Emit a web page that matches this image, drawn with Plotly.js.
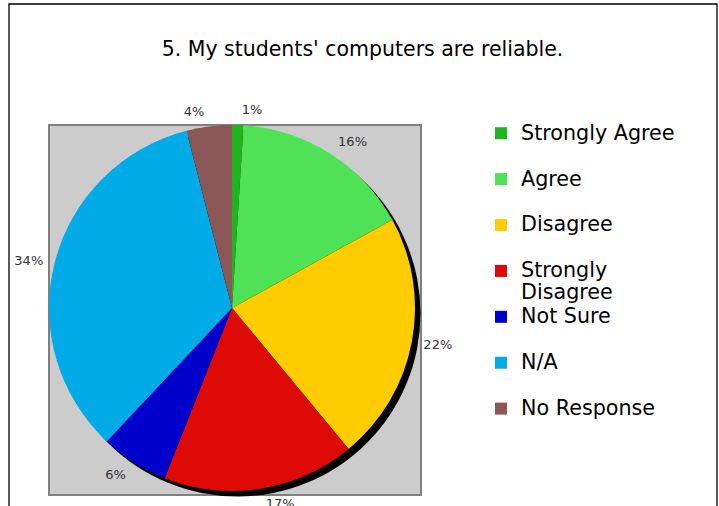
<!DOCTYPE html>
<html><head><meta charset="utf-8">
<script src="https://cdn.plot.ly/plotly-3.0.1.min.js"></script>
<style>html,body{margin:0;padding:0;background:#fff}#chart{width:719px;height:506px}</style>
</head><body><div id="chart"></div>
<script>
const titleText = "5. My students' computers are reliable.";
const categories = ["Strongly Agree", "Agree", "Disagree", "Strongly Disagree", "Not Sure", "N/A", "No Response"];
const percentages = [1, 16, 22, 17, 6, 34, 4];
const colors = ["#1fb51f", "#4fe156", "#ffcc00", "#dd0a05", "#0000cc", "#00abe7", "#8a5656"];

const W = 719, H = 506;
const fx = x => x / W, fy = y => 1 - y / H;
const pieCx = 232, pieCy = 308, pieR = 183, shadowDx = 5.5, shadowDy = 5.5, labelGap = 8;

function legendLabel(c) {
  let parts;
  if (c.length > 15) { const i = c.lastIndexOf(' '); parts = [c.slice(0, i), c.slice(i + 1)]; }
  else parts = [c, '\u00a0'];
  return parts.map(p => '<span style="font-size:20.7px">' + p + '</span>').join('<br>');
}
const legendLabels = categories.map(legendLabel);
const domainFor = r => ({ x: [fx(pieCx - r), fx(pieCx + r)], y: [fy(pieCy + r), fy(pieCy - r)] });
const labelFont = { family: 'DejaVu Sans', size: 13, color: '#333' };

const pieTrace = {
  type: 'pie',
  values: percentages,
  labels: legendLabels,
  marker: { colors: colors, line: { width: 0 } },
  sort: false,
  direction: 'clockwise',
  rotation: 0,
  textinfo: 'none',
  domain: domainFor(pieR),
  hoverinfo: 'label+percent'
};

// transparent, slightly larger copy of the pie that only carries the outside percentage labels
const labelTrace = {
  type: 'pie',
  values: percentages,
  labels: legendLabels,
  marker: { colors: categories.map(() => 'rgba(0,0,0,0)'), line: { width: 0 } },
  sort: false,
  direction: 'clockwise',
  rotation: 0,
  showlegend: false,
  textinfo: 'percent',
  textposition: 'outside',
  textfont: labelFont,
  outsidetextfont: labelFont,
  domain: domainFor(pieR + labelGap),
  hoverinfo: 'skip'
};

const layout = {
  width: W, height: H,
  margin: { l: 0, r: 0, t: 0, b: 0, autoexpand: false },
  paper_bgcolor: '#ffffff',
  title: { text: titleText, x: fx(362.5), xanchor: 'center', xref: 'paper', y: fy(49), yanchor: 'middle', yref: 'paper',
           font: { family: 'DejaVu Sans', size: 20.5, color: '#000' } },
  showlegend: true,
  legend: { xref: 'paper', yref: 'paper', x: fx(481), xanchor: 'left', y: fy(116), yanchor: 'top', maxheight: 420,
            font: { family: 'DejaVu Sans', size: 16.5, color: '#000' }, valign: 'top', bgcolor: 'rgba(0,0,0,0)', itemwidth: 30 },
  shapes: [
    { type: 'rect', xref: 'paper', yref: 'paper', x0: fx(9), x1: fx(717), y0: fy(540), y1: fy(4), layer: 'below',
      line: { color: '#000', width: 1.3 }, fillcolor: 'rgba(0,0,0,0)' },
    { type: 'rect', xref: 'paper', yref: 'paper', x0: fx(49), x1: fx(421), y0: fy(495), y1: fy(125), layer: 'below',
      line: { color: '#808080', width: 2 }, fillcolor: '#cccccc' },
    { type: 'circle', xref: 'paper', yref: 'paper', x0: fx(pieCx - pieR + shadowDx), x1: fx(pieCx + pieR + shadowDx),
      y0: fy(pieCy + pieR + shadowDy), y1: fy(pieCy - pieR + shadowDy), layer: 'below',
      line: { width: 0 }, fillcolor: '#000' }
  ]
};

Plotly.newPlot('chart', [pieTrace, labelTrace], layout, { displayModeBar: false, staticPlot: true });
</script></body></html>
